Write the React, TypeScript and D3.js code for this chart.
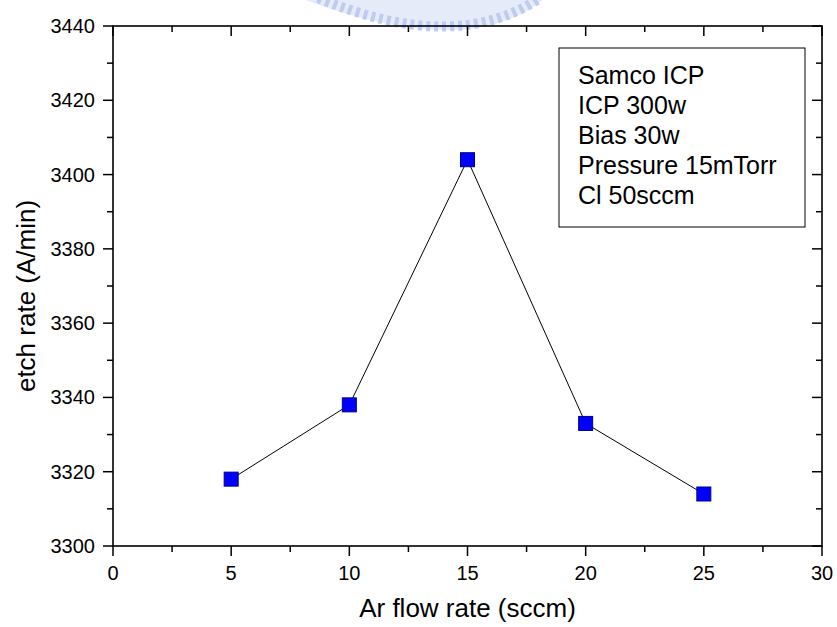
import React from "react";
import * as d3 from "d3";

const flowRates = [5, 10, 15, 20, 25];
const etchRates = [3318, 3338, 3404, 3333, 3314];
const xTicks = [0, 5, 10, 15, 20, 25, 30];
const yTicks = [3300, 3320, 3340, 3360, 3380, 3400, 3420, 3440];
const legendLines = ["Samco ICP", "ICP 300w", "Bias 30w", "Pressure 15mTorr", "Cl 50sccm"];

const W = 837;
const H = 627;
const left = 113, right = 822, top = 26, bottom = 546;
const FONT = "'Liberation Sans', Arial, sans-serif";

export default function App() {
  const x = d3.scaleLinear().domain([0, 30]).range([left, right]);
  const y = d3.scaleLinear().domain([3300, 3440]).range([bottom, top]);
  const xMinor = d3.range(0, 30.01, 2.5).filter((v) => v % 5 !== 0);
  const yMinor = d3.range(3300, 3440.01, 10).filter((v) => v % 20 !== 0);
  const line = d3
    .line<number>()
    .x((_, i) => x(flowRates[i]))
    .y((d) => y(d));
  const sq = 14;
  return (
    <svg
      width={W}
      height={H}
      style={{ position: "absolute", left: 0, top: 0, background: "#fff" }}
      fontFamily={FONT}
    >
      <rect x={0} y={0} width={W} height={H} fill="#fff" />
      {/* faint watermark remnant at the top */}
      <g opacity={0.45}>
        <path d="M 300 -2 Q 470 62 545 -2 Z" fill="#c8d4f4" />
        <path
          d="M 318 -2 Q 455 55 540 -2"
          fill="none"
          stroke="#6f8fe0"
          strokeWidth={10}
          strokeDasharray="4 4"
        />
      </g>
      {/* frame */}
      <rect x={left} y={top} width={right - left} height={bottom - top} fill="none" stroke="#000" strokeWidth={1.6} />
      {/* x ticks */}
      {xTicks.map((t) => (
        <g key={"xt" + t}>
          <line x1={x(t)} x2={x(t)} y1={bottom} y2={bottom + 10} stroke="#000" strokeWidth={1.5} />
          <line x1={x(t)} x2={x(t)} y1={top} y2={top + 10} stroke="#000" strokeWidth={1.5} />
          <text x={x(t)} y={580} textAnchor="middle" fontSize={20}>
            {t}
          </text>
        </g>
      ))}
      {xMinor.map((t) => (
        <g key={"xm" + t}>
          <line x1={x(t)} x2={x(t)} y1={bottom} y2={bottom + 6} stroke="#000" strokeWidth={1.5} />
          <line x1={x(t)} x2={x(t)} y1={top} y2={top + 6} stroke="#000" strokeWidth={1.5} />
        </g>
      ))}
      {/* y ticks */}
      {yTicks.map((t) => (
        <g key={"yt" + t}>
          <line x1={left - 10} x2={left} y1={y(t)} y2={y(t)} stroke="#000" strokeWidth={1.5} />
          <line x1={right - 10} x2={right} y1={y(t)} y2={y(t)} stroke="#000" strokeWidth={1.5} />
          <text x={95} y={y(t) + 7} textAnchor="end" fontSize={20}>
            {t}
          </text>
        </g>
      ))}
      {yMinor.map((t) => (
        <g key={"ym" + t}>
          <line x1={left - 6} x2={left} y1={y(t)} y2={y(t)} stroke="#000" strokeWidth={1.5} />
          <line x1={right - 6} x2={right} y1={y(t)} y2={y(t)} stroke="#000" strokeWidth={1.5} />
        </g>
      ))}
      {/* axis titles */}
      <text x={(left + right) / 2} y={617} textAnchor="middle" fontSize={26}>
        Ar flow rate (sccm)
      </text>
      <text transform={`translate(35, ${(top + bottom) / 2 + 10}) rotate(-90)`} textAnchor="middle" fontSize={26}>
        etch rate (A/min)
      </text>
      {/* data */}
      <path d={line(etchRates) || ""} fill="none" stroke="#000" strokeWidth={1} />
      {etchRates.map((v, i) => (
        <rect
          key={"p" + i}
          x={x(flowRates[i]) - sq / 2}
          y={y(v) - sq / 2}
          width={sq}
          height={sq}
          fill="#0000ff"
          stroke="#000080"
          strokeWidth={1}
        />
      ))}
      {/* legend box */}
      <rect x={559} y={48} width={246} height={179} fill="#fff" stroke="#000" strokeWidth={1} />
      {legendLines.map((s, i) => (
        <text key={s} x={578} y={84 + i * 30} fontSize={25}>
          {s}
        </text>
      ))}
    </svg>
  );
}
